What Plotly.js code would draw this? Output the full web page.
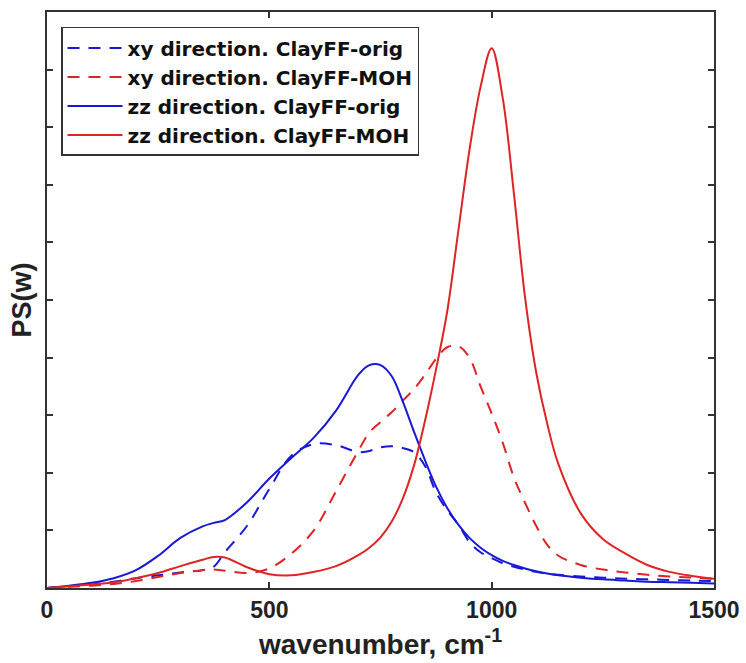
<!DOCTYPE html>
<html>
<head>
<meta charset="utf-8">
<script src="https://cdn.plot.ly/plotly-3.0.1.min.js"></script>
<style>
  html, body { margin: 0; padding: 0; background: #fff; }
  #chart { width: 746px; height: 663px; }
</style>
</head>
<body>
<div id="chart"></div>
<script>
// Power spectra PS(w) of the clay hydroxyl motion, two force-field variants
const wavenumber = [0, 50, 100, 150, 200, 250, 300, 350, 375, 400, 450, 500, 550, 600, 650, 700, 725, 750, 775, 800,
                    825, 850, 875, 900, 925, 950, 975, 1000, 1025, 1050, 1075, 1100, 1125, 1150, 1200, 1250, 1300,
                    1350, 1400, 1450, 1500];

const xyOrig = [0, 0.03, 0.06, 0.11, 0.17, 0.22, 0.27, 0.31, 0.37, 0.62, 1.08, 1.72, 2.30, 2.50, 2.48, 2.36, 2.38, 2.44, 2.46, 2.43,
                2.36, 2.12, 1.66, 1.35, 1.10, 0.80, 0.62, 0.52, 0.43, 0.37, 0.32, 0.28, 0.25, 0.23, 0.20, 0.18, 0.16,
                0.15, 0.14, 0.13, 0.12];

const xyMOH = [0, 0.02, 0.04, 0.07, 0.12, 0.19, 0.26, 0.31, 0.32, 0.30, 0.26, 0.34, 0.60, 1.00, 1.68, 2.38, 2.70, 2.88, 3.05, 3.25,
               3.45, 3.70, 3.98, 4.18, 4.20, 4.00, 3.50, 3.03, 2.52, 1.92, 1.48, 1.08, 0.75, 0.56, 0.40, 0.32, 0.27,
               0.23, 0.20, 0.18, 0.16];

const zzOrig = [0, 0.04, 0.09, 0.17, 0.31, 0.56, 0.87, 1.07, 1.13, 1.18, 1.49, 1.90, 2.26, 2.61, 3.08, 3.70, 3.87, 3.87, 3.68, 3.24,
                2.72, 2.22, 1.76, 1.39, 1.10, 0.87, 0.70, 0.57, 0.47, 0.40, 0.34, 0.29, 0.25, 0.22, 0.18, 0.15, 0.13,
                0.11, 0.10, 0.09, 0.08];

const zzMOH = [0, 0.03, 0.06, 0.10, 0.17, 0.26, 0.38, 0.49, 0.54, 0.53, 0.36, 0.24, 0.22, 0.28, 0.38, 0.57, 0.70, 0.88, 1.15, 1.55,
               2.12, 2.90, 3.80, 4.80, 6.20, 7.60, 8.70, 9.37, 8.50, 6.85, 5.05, 3.75, 2.85, 2.15, 1.30, 0.85, 0.60,
               0.40, 0.28, 0.21, 0.16];

const seriesNames = ['xy direction. ClayFF-orig', 'xy direction. ClayFF-MOH',
                     'zz direction. ClayFF-orig', 'zz direction. ClayFF-MOH'];
const xTicks = [0, 500, 1000, 1500];

const BLUE = '#1818d6';
const RED = '#de2424';
const DASH = '12px,9px';
const FONT = 'Liberation Sans, Arial, Helvetica, sans-serif';
const LEGEND_FONT = 'DejaVu Sans, Liberation Sans, sans-serif';

function trace(y, name, color, dash) {
  return {
    x: wavenumber, y: y, name: name, type: 'scatter', mode: 'lines',
    line: { color: color, width: 2, dash: dash, shape: 'spline', smoothing: 1 },
    hoverinfo: 'skip'
  };
}

const data = [
  trace(xyOrig, seriesNames[0], BLUE, DASH),
  trace(xyMOH, seriesNames[1], RED, DASH),
  trace(zzOrig, seriesNames[2], BLUE, 'solid'),
  trace(zzMOH, seriesNames[3], RED, 'solid')
];

const axisCommon = {
  showline: true, linecolor: '#333', linewidth: 2, mirror: 'ticks',
  ticks: 'inside', ticklen: 6, tickwidth: 2, tickcolor: '#333',
  showgrid: false, zeroline: false
};

const layout = {
  width: 746, height: 663,
  margin: { l: 47, r: 32, t: 12, b: 75 },
  paper_bgcolor: '#fff', plot_bgcolor: '#fff',
  font: { family: FONT, color: '#222' },
  showlegend: true,
  legend: {
    x: 0.021, y: 0.974, xanchor: 'left', yanchor: 'top',
    bgcolor: '#fff', bordercolor: '#333', borderwidth: 1.5,
    font: { family: LEGEND_FONT, size: 20, weight: 'bold', color: '#111' },
    itemwidth: 55, tracegroupgap: 0
  },
  xaxis: Object.assign({}, axisCommon, {
    range: [0, 1500], tickmode: 'array', tickvals: xTicks, ticktext: xTicks.map(String),
    tickfont: { family: FONT, size: 23, weight: 'bold', color: '#222' },
    title: { text: 'wavenumber, cm<sup>-1</sup>', standoff: 13,
             font: { family: FONT, size: 28, weight: 'bold', color: '#222' } }
  }),
  yaxis: Object.assign({}, axisCommon, {
    range: [0, 10], dtick: 1, showticklabels: false,
    title: { text: 'PS(w)', standoff: 6,
             font: { family: FONT, size: 27, weight: 'bold', color: '#222' } }
  })
};

Plotly.newPlot('chart', data, layout, { displayModeBar: false, staticPlot: true });
</script>
</body>
</html>
